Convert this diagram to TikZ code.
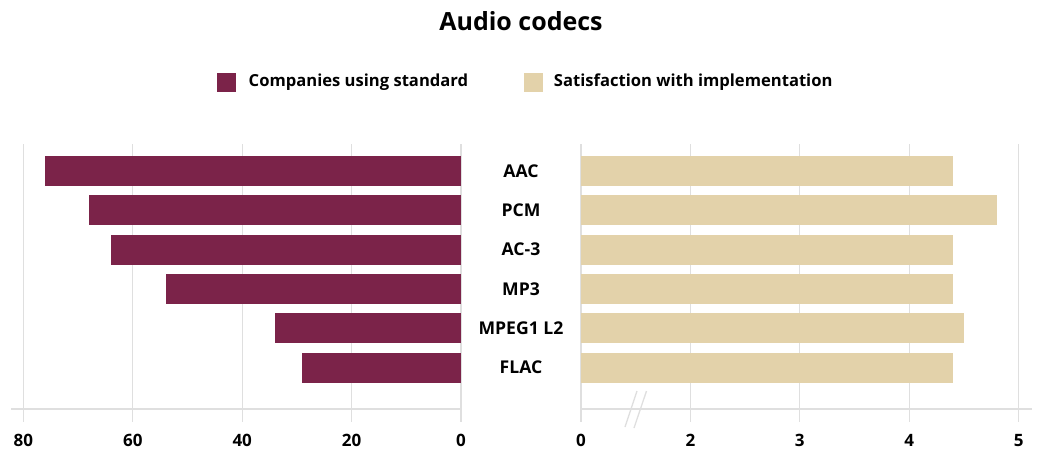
\documentclass[tikz,border=0pt]{standalone}
\usepackage{fontspec}
\setmainfont{Open Sans}
\usetikzlibrary{positioning}
\definecolor{wine}{HTML}{7B2349}
\definecolor{sand}{HTML}{E3D2AA}
\definecolor{gridgray}{HTML}{DFDFDF}

\begin{document}
\begin{tikzpicture}[x=1pt, y=-1pt,
    gridline/.style={gridgray, line width=1.3pt},
    swatch/.style={minimum size=19pt, inner sep=0pt},
    keytext/.style={inner sep=0pt, font=\bfseries\fontsize{16.6}{16.6}\selectfont},
    codec/.style={font=\bfseries\fontsize{17.6}{17.6}\selectfont},
    ticklabel/.style={anchor=base, font=\bfseries\fontsize{17}{17}\selectfont}]
    \useasboundingbox (0,0) rectangle (1040,451);
    \node[anchor=base, font=\bfseries\fontsize{25}{25}\selectfont] (title) at (521,30) {Audio codecs};
    % legend
    \node[swatch, fill=wine] (keyA) at (226.2,82) {};
    \node[keytext, right=12.6pt of keyA] (keyAtext) {Companies using standard};
    \node[swatch, fill=sand] (keyB) at (533.4,82) {};
    \node[keytext, right=10.6pt of keyB] (keyBtext) {Satisfaction with implementation};
    % grid and axes, left half counts down from 80 to 0
    \foreach \v in {0,20,40,60,80} {
        \draw[gridline] ({461-5.47*\v},144) -- ({461-5.47*\v},421.7);
        \node[ticklabel] (lt\v) at ({461-5.47*\v},446) {\v};
    }
    \draw[gridline] (11,409) -- (461,409);
    % right half starts at 1, labelled 0 with a break
    \foreach \v/\t in {1/0,2/2,3/3,4/4,5/5} {
        \draw[gridline] ({581+109.4*(\v-1)},144) -- ({581+109.4*(\v-1)},421.7);
        \node[ticklabel] (rt\v) at ({581+109.4*(\v-1)},446) {\t};
    }
    \draw[gridline] (581,409) -- (1032,409);
    \draw[gridline] (637,391) -- (625,427);
    \draw[gridline] (646.5,391) -- (634,428);
    % bars
    \foreach \name/\comp/\sat [count=\i from 0] in {AAC/76/4.4, PCM/68/4.8, AC-3/64/4.4,
        MP3/54/4.4, MPEG1 L2/34/4.5, FLAC/29/4.4} {
        \fill[wine] (461,{156+39.3*\i}) rectangle ({461-5.47*\comp},{186+39.3*\i});
        \fill[sand] (581,{156+39.3*\i}) rectangle ({581+109.4*(\sat-1)},{186+39.3*\i});
        \node[codec] (codec\i) at (521,{171+39.3*\i}) {\name};
    }
\end{tikzpicture}
\end{document}
